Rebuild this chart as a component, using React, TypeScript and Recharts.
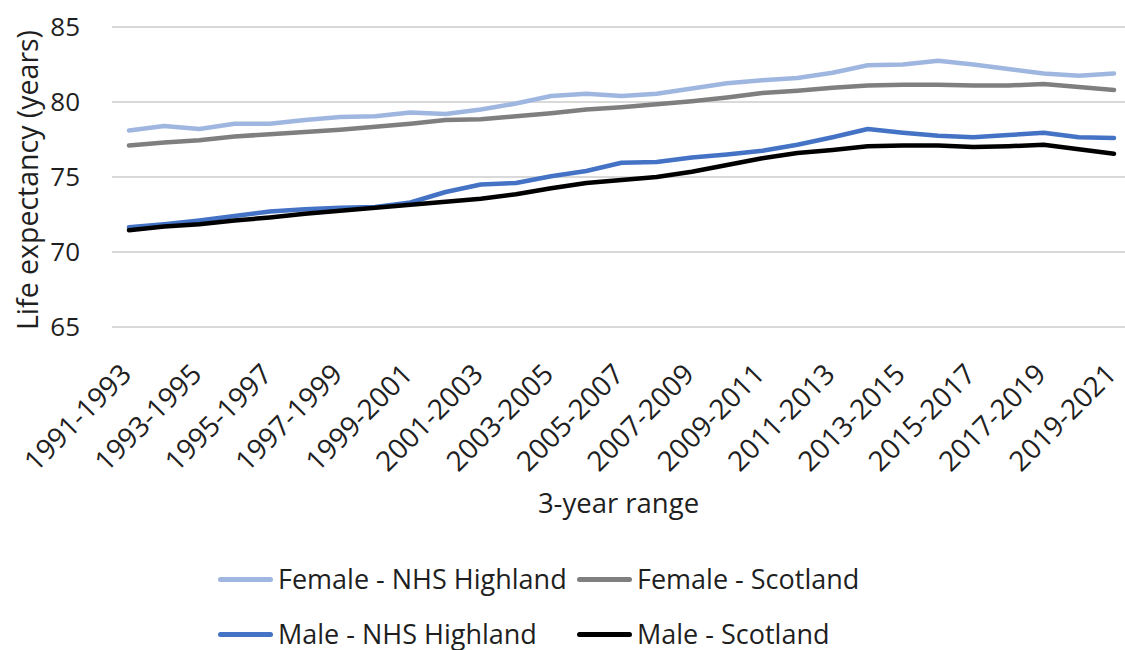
import { LineChart, Line, XAxis, YAxis, CartesianGrid, Legend } from "recharts";

const periods = [
  "1991-1993", "1992-1994", "1993-1995", "1994-1996", "1995-1997", "1996-1998",
  "1997-1999", "1998-2000", "1999-2001", "2000-2002", "2001-2003", "2002-2004",
  "2003-2005", "2004-2006", "2005-2007", "2006-2008", "2007-2009", "2008-2010",
  "2009-2011", "2010-2012", "2011-2013", "2012-2014", "2013-2015", "2014-2016",
  "2015-2017", "2016-2018", "2017-2019", "2018-2020", "2019-2021",
];

const femaleHighland = [
  78.1, 78.4, 78.2, 78.55, 78.55, 78.8, 79.0, 79.05, 79.3, 79.2, 79.5, 79.9,
  80.4, 80.55, 80.4, 80.55, 80.9, 81.25, 81.45, 81.6, 81.95, 82.45, 82.5,
  82.75, 82.5, 82.2, 81.9, 81.75, 81.9,
];
const femaleScotland = [
  77.1, 77.3, 77.45, 77.7, 77.85, 78.0, 78.15, 78.35, 78.55, 78.8, 78.85,
  79.05, 79.25, 79.5, 79.65, 79.85, 80.05, 80.3, 80.6, 80.75, 80.95, 81.1,
  81.15, 81.15, 81.1, 81.1, 81.2, 81.0, 80.8,
];
const maleHighland = [
  71.65, 71.85, 72.1, 72.4, 72.7, 72.85, 72.95, 73.0, 73.3, 74.0, 74.5, 74.6,
  75.05, 75.4, 75.95, 76.0, 76.3, 76.5, 76.75, 77.15, 77.65, 78.2, 77.95,
  77.75, 77.65, 77.8, 77.95, 77.65, 77.6,
];
const maleScotland = [
  71.45, 71.7, 71.85, 72.1, 72.3, 72.55, 72.75, 72.95, 73.15, 73.35, 73.55,
  73.85, 74.25, 74.6, 74.8, 75.0, 75.35, 75.8, 76.25, 76.6, 76.8, 77.05, 77.1,
  77.1, 77.0, 77.05, 77.15, 76.85, 76.55,
];

const yTicks = [65, 70, 75, 80, 85];

const series = [
  { key: "femaleHighland", name: "Female - NHS Highland", color: "#9fb7e0" },
  { key: "femaleScotland", name: "Female - Scotland", color: "#7f7f7f" },
  { key: "maleHighland", name: "Male - NHS Highland", color: "#4472c4" },
  { key: "maleScotland", name: "Male - Scotland", color: "#000000" },
];

const data = periods.map((period, i) => ({
  period,
  femaleHighland: femaleHighland[i],
  femaleScotland: femaleScotland[i],
  maleHighland: maleHighland[i],
  maleScotland: maleScotland[i],
}));

const FONT = "'Open Sans', 'Noto Sans', sans-serif";
const TEXT = "#1f1f1f";

// rotated category label, anchored at its end just below the tick
function PeriodTick({ x, y, payload }: any) {
  return (
    <g transform={`translate(${x + 4},${y + 49})`}>
      <text
        x={0}
        y={0}
        textAnchor="end"
        transform="rotate(-45)"
        fontFamily={FONT}
        fontSize={28}
        fill={TEXT}
      >
        {payload.value}
      </text>
    </g>
  );
}

function LegendGrid() {
  return (
    <div
      style={{
        width: 1125,
        height: 100,
        display: "grid",
        gridTemplateColumns: "359px 420px",
        gridAutoRows: "30px",
        rowGap: 25,
        paddingLeft: 218,
        paddingTop: 14,
        boxSizing: "border-box",
        fontFamily: FONT,
        fontSize: 27,
        lineHeight: "30px",
        color: TEXT,
      }}
    >
      {series.map((s) => (
        <div key={s.key} style={{ display: "flex", alignItems: "center", whiteSpace: "nowrap" }}>
          <span
            style={{
              display: "inline-block",
              width: 55,
              height: 5,
              borderRadius: 3,
              background: s.color,
              marginRight: 5,
            }}
          />
          {s.name}
        </div>
      ))}
    </div>
  );
}

export default function App() {
  return (
    <div style={{ position: "absolute", left: 0, top: 0, background: "#fff" }}>
      <LineChart
        width={1125}
        height={650}
        data={data}
        margin={{ top: 27, right: 0, left: 0, bottom: 0 }}
      >
        <CartesianGrid vertical={false} stroke="#d9d9d9" strokeWidth={2} />
        <XAxis
          dataKey="period"
          interval={1}
          height={223}
          tickSize={0}
          tickMargin={0}
          axisLine={false}
          tick={<PeriodTick />}
          padding={{ left: 17, right: 11 }}
          label={{
            value: "3-year range",
            position: "center",
            dy: 65,
            fontFamily: FONT,
            fontSize: 27.5,
            fill: TEXT,
          }}
        />
        <YAxis
          domain={[65, 85]}
          ticks={yTicks}
          width={112}
          tickSize={0}
          tickMargin={32}
          axisLine={false}
          tick={{ fontFamily: FONT, fontSize: 26, fill: TEXT }}
          label={{
            value: "Life expectancy (years)",
            angle: -90,
            position: "center",
            dx: -28,
            dy: 3,
            fontFamily: FONT,
            fontSize: 28.5,
            fill: TEXT,
          }}
        />
        <Legend verticalAlign="bottom" height={100} content={<LegendGrid />} />
        {series.map((s) => (
          <Line
            key={s.key}
            type="linear"
            dataKey={s.key}
            name={s.name}
            stroke={s.color}
            strokeWidth={4.5}
            strokeLinecap="round"
            strokeLinejoin="round"
            dot={false}
            activeDot={false}
            isAnimationActive={false}
          />
        ))}
      </LineChart>
    </div>
  );
}
